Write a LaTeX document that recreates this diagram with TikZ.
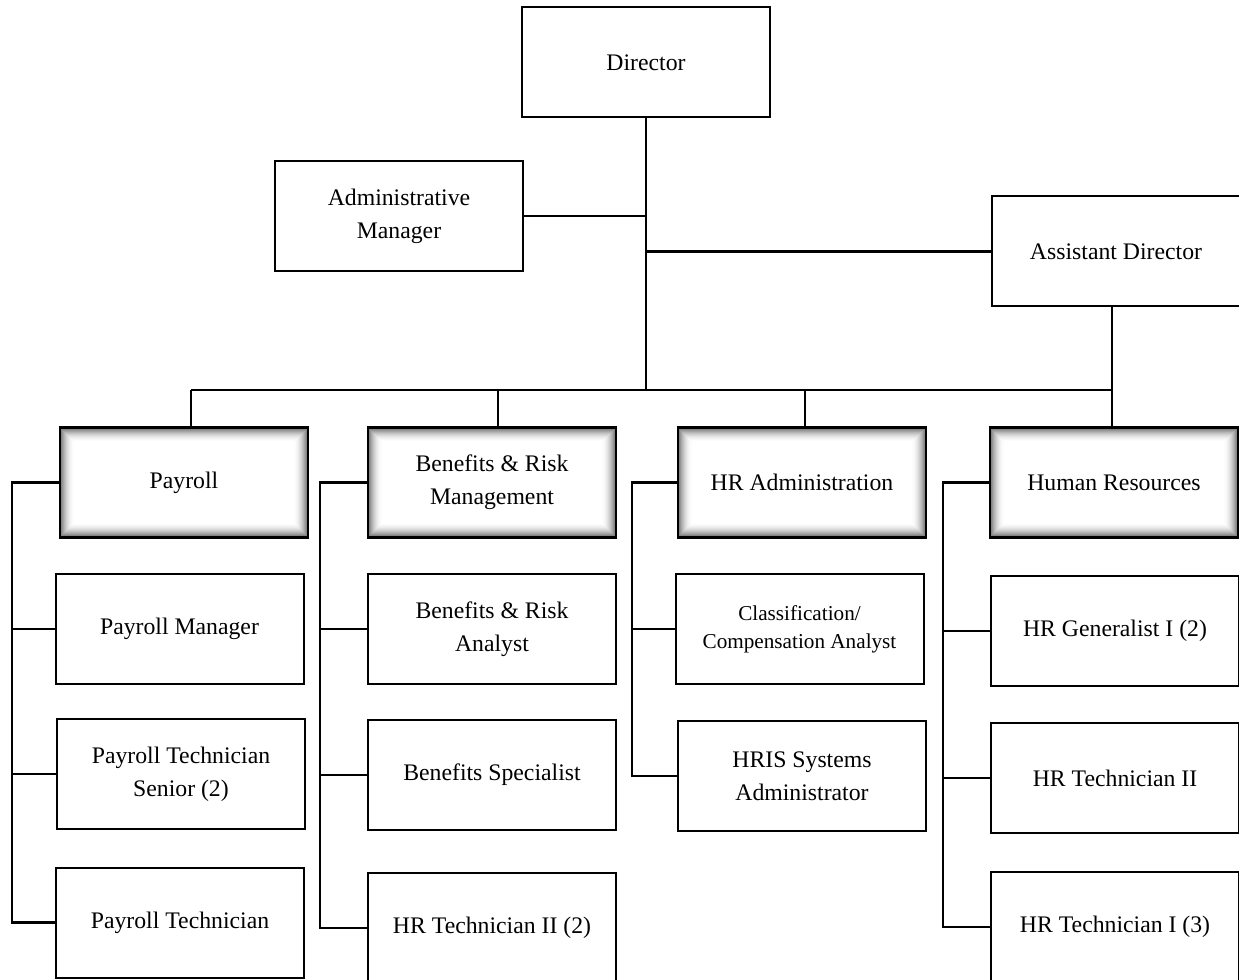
\documentclass[tikz,border=0pt]{standalone}
\usepackage{fontspec}
\setmainfont{Liberation Serif}
\begin{document}
\begin{tikzpicture}[x=0.75pt,y=-0.75pt,
  box/.style={draw=black,line width=1.5pt,fill=white,minimum width=186pt,minimum height=82.5pt,
    inner sep=0pt,align=center,font=\fontsize{17.8}{24.75}\selectfont},
  smallbox/.style={box,font=\fontsize{15.9}{21}\selectfont},
  headbox/.style={box,line width=1.9pt,path picture={
    \foreach \i/\c in {1/55,2/48,3/41,4/35,5/29,6/24,7/19,8/15,9/11,10/8,11/5,12/3,13/1}{
      \draw[line width=0.8pt,black!\c]
        ([shift={(\i,\i)}]path picture bounding box.north west) rectangle
        ([shift={(-\i,-\i)}]path picture bounding box.south east);
    }}},
  conn/.style={draw=black,line width=2.2pt}]
\useasboundingbox (0,0) rectangle (1239,980);

% top level
\node[box] (dir) at (646,62.5) {Director};
\node[box] (adm) at (399,216) {Administrative\\Manager};
\node[box] (asst) at (1116,251.5) {Assistant Director};

% department heads
\node[headbox] (pay) at (184,482.5) {Payroll};
\node[headbox] (ben) at (492,482.5) {Benefits \& Risk\\Management};
\node[headbox] (hra) at (802,482.5) {HR Administration};
\node[headbox] (hr) at (1114,482.5) {Human Resources};

% payroll column
\node[box] (pm) at (179.5,629) {Payroll Manager};
\node[box] (pts) at (181,774) {Payroll Technician\\Senior (2)};
\node[box] (pt) at (180,922.5) {Payroll Technician};

% benefits column
\node[box] (bra) at (492,629) {Benefits \& Risk\\Analyst};
\node[box] (bs) at (492,775) {Benefits Specialist};
\node[box] (hrt2b) at (492,928) {HR Technician II (2)};

% HR administration column
\node[smallbox] (cca) at (799.5,629) {Classification/\\Compensation Analyst};
\node[box] (hris) at (802,776) {HRIS Systems\\Administrator};

% human resources column
\node[box] (hrg) at (1115,631) {HR Generalist I (2)};
\node[box] (hrt2) at (1115,778) {HR Technician II};
\node[box] (hrt1) at (1115,927) {HR Technician I (3)};

% connectors from the top
\coordinate (j1) at (646,390);
\draw[conn] (dir.south) -- (j1);
\draw[conn] (adm.east) -- (adm.east -| dir.south);
\draw[conn] (asst.west) -- (asst.west -| dir.south);
\coordinate (d1) at (191,390);
\coordinate (d2) at (498,390);
\coordinate (d3) at (805,390);
\coordinate (d4) at (1112,390);
\draw[conn] (d1) -- (d4);
\draw[conn] (d1) -- (d1 |- pay.north);
\draw[conn] (d2) -- (d2 |- ben.north);
\draw[conn] (d3) -- (d3 |- hra.north);
\draw[conn] (asst.south -| d4) -- (d4 |- hr.north);

% brackets
\coordinate (b1) at (12,483);
\coordinate (b2) at (320,483);
\coordinate (b3) at (632,483);
\coordinate (b4) at (943,483);
\draw[conn] (pay.west) -- (pay.west -| b1) -- (pt.west -| b1) -- (pt.west);
\draw[conn] (pm.west -| b1) -- (pm.west);
\draw[conn] (pts.west -| b1) -- (pts.west);

\draw[conn] (ben.west) -- (ben.west -| b2) -- (hrt2b.west -| b2) -- (hrt2b.west);
\draw[conn] (bra.west -| b2) -- (bra.west);
\draw[conn] (bs.west -| b2) -- (bs.west);

\draw[conn] (hra.west) -- (hra.west -| b3) -- (hris.west -| b3) -- (hris.west);
\draw[conn] (cca.west -| b3) -- (cca.west);

\draw[conn] (hr.west) -- (hr.west -| b4) -- (hrt1.west -| b4) -- (hrt1.west);
\draw[conn] (hrg.west -| b4) -- (hrg.west);
\draw[conn] (hrt2.west -| b4) -- (hrt2.west);
\end{tikzpicture}
\end{document}
